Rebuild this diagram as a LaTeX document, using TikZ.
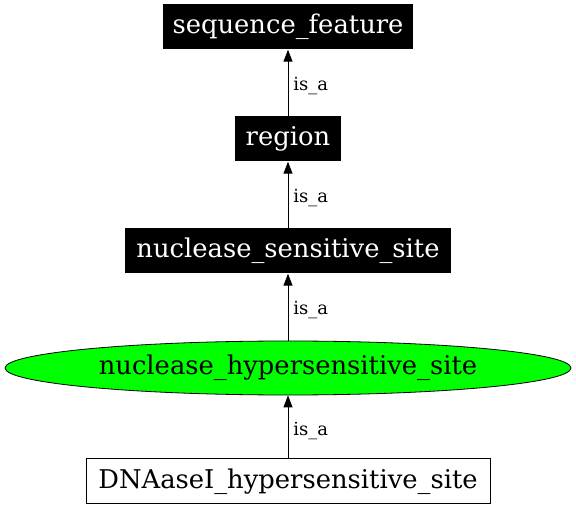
\documentclass[tikz,border=0pt]{standalone}
\usepackage{fontspec}
\setmainfont{DejaVu Serif}
\usetikzlibrary{arrows.meta,shapes.geometric}

\tikzset{
  term/.style={fill=black,text=white,inner sep=0pt,minimum height=45pt,text height=17pt,text depth=3pt,font=\fontsize{25.8}{28}\selectfont},
  leaf/.style={draw=black,fill=white,inner sep=0pt,minimum height=45pt,text height=17pt,text depth=3pt,line width=0.8pt,font=\fontsize{25.8}{28}\selectfont},
  focus/.style={ellipse,draw=black,fill=green,inner sep=0pt,minimum width=566pt,minimum height=54pt,text height=17pt,text depth=3pt,line width=0.8pt,font=\fontsize{25.8}{28}\selectfont},
  isa/.style={draw=black,line width=0.9pt,-{Triangle[length=12pt,width=9pt]}},
  isalabel/.style={font=\fontsize{18}{20}\selectfont,anchor=west,inner sep=0pt}
}

\begin{document}
\begin{tikzpicture}[x=1pt,y=1pt]
  \useasboundingbox (0,0) rectangle (576,512);
  % nodes, top to bottom
  \node[term,minimum width=250pt] (seqfeat) at (288,485) {sequence\_feature};
  \node[term,minimum width=106pt] (region) at (288,373) {region};
  \node[term,minimum width=326pt] (nucsens) at (288,261) {nuclease\_sensitive\_site};
  \node[focus] (nuchyper) at (288,144) {nuclease\_hypersensitive\_site};
  \node[leaf,minimum width=404pt] (dnase) at (288,31) {DNAaseI\_hypersensitive\_site};
  % is_a edges
  \draw[isa] (region.north) -- (seqfeat.south) node[midway,isalabel,xshift=5pt,yshift=-3pt]{is\_a};
  \draw[isa] (nucsens.north) -- (region.south) node[midway,isalabel,xshift=5pt,yshift=-3pt]{is\_a};
  \draw[isa] (nuchyper.north) -- (nucsens.south) node[midway,isalabel,xshift=5pt,yshift=-3pt]{is\_a};
  \draw[isa] (dnase.north) -- (nuchyper.south) node[midway,isalabel,xshift=5pt,yshift=-4pt]{is\_a};
\end{tikzpicture}
\end{document}
